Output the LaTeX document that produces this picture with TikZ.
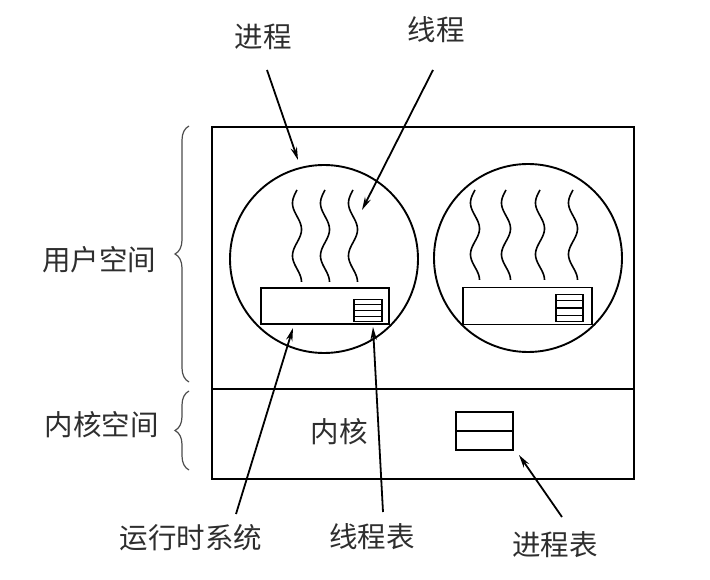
\documentclass[tikz,border=0pt]{standalone}
\usepackage{fontspec}
\newfontfamily\cjk{Noto Sans CJK SC}
\usetikzlibrary{arrows.meta,decorations.pathreplacing,calc}
\begin{document}
\begin{tikzpicture}[x=1pt,y=-1pt,
  lbl/.style={font=\cjk\fontsize{28.5}{28.5}\selectfont, text=black!82, inner sep=0pt},
  thick line/.style={line width=2.4pt},
  ring/.style={draw, circle, line width=1.9pt, minimum size=188pt, inner sep=0pt},
  rt/.style={draw, line width=1.9pt, inner sep=0pt},
  ptr/.style={line width=1.8pt, -{Stealth[length=13pt,width=6.5pt]}},
  wave/.style={line width=1.6pt},
  brc/.style={decorate, decoration={brace, amplitude=14pt}, line width=1.2pt, draw=black!70}]
\useasboundingbox (0,0) rectangle (710,580);
% outer box
\node[draw, thick line, minimum width=422pt, minimum height=352pt, inner sep=0pt] (box) at (423,303) {};
\coordinate (divL) at (212,389);
\coordinate (divR) at (634,389);
\draw[thick line] (divL) -- (divR);
% circles
\node[ring] (c1) at (324,259) {};
\node[ring] (c2) at (528,258) {};
% runtime rectangles
\node[rt, minimum width=128pt, minimum height=36pt] (r1) at (325,306) {};
\node[rt, minimum width=129pt, minimum height=37pt] (r2) at (527.5,306) {};
% small thread tables
\node[rt, minimum width=28pt, minimum height=22pt] (t1) at (368,310.5) {};
\node[rt, minimum width=27pt, minimum height=27pt] (t2) at (569.5,308) {};
\foreach \f in {0.25,0.5,0.75}{
  \draw[line width=1.3pt] ($(t1.north west)!\f!(t1.south west)$) -- ($(t1.north east)!\f!(t1.south east)$);
  \draw[line width=1.3pt] ($(t2.north west)!\f!(t2.south west)$) -- ($(t2.north east)!\f!(t2.south east)$);
}
% waves (threads)
\foreach \wx in {297,325,353}{
  \draw[wave] plot[domain=0:1, samples=60, smooth, variable=\t] ({\wx+4.5*sin(-630*\t)}, {190+92*\t});
}
\foreach \wx in {475,506,540,573}{
  \draw[wave] plot[domain=0:1, samples=60, smooth, variable=\t] ({\wx+4.5*sin(-630*\t)}, {190+90*\t});
}
% kernel
\node[lbl] (kern) at (339,432) {内核};
\node[rt, minimum width=57pt, minimum height=38pt] (pt) at (484.5,431) {};
\draw[line width=1.9pt] (pt.west) -- (pt.east);
% braces and side labels
\coordinate (bu1) at (189,382);
\coordinate (bu2) at (189,126);
\coordinate (bl1) at (189,470);
\coordinate (bl2) at (189,391);
\draw[brc] (bu1) -- (bu2);
\draw[brc] (bl1) -- (bl2);
\node[lbl] (user) at (99,260) {用户空间};
\node[lbl] (kspace) at (102,425) {内核空间};
% top labels and arrows
\node[lbl] (lproc) at (263,37) {进程};
\node[lbl] (lthr) at (436,30) {线程};
\coordinate (procTail) at (267,70);
\coordinate (procTip) at (298,160);
\coordinate (thrTail) at (433,70);
\coordinate (thrTip) at (362,210);
\draw[ptr] (procTail) -- (procTip);
\draw[ptr] (thrTail) -- (thrTip);
% bottom labels and arrows
\node[lbl] (lrt) at (191,538) {运行时系统};
\node[lbl] (ltt) at (372,537) {线程表};
\node[lbl] (lpt) at (555,545) {进程表};
\coordinate (rtTail) at (236,514);
\coordinate (rtTip) at (293,328);
\coordinate (ttTail) at (383,512);
\coordinate (ttTip) at (373,327);
\coordinate (ptTail) at (562,517);
\coordinate (ptTip) at (519,455);
\draw[ptr] (rtTail) -- (rtTip);
\draw[ptr] (ttTail) -- (ttTip);
\draw[ptr] (ptTail) -- (ptTip);
\end{tikzpicture}
\end{document}
